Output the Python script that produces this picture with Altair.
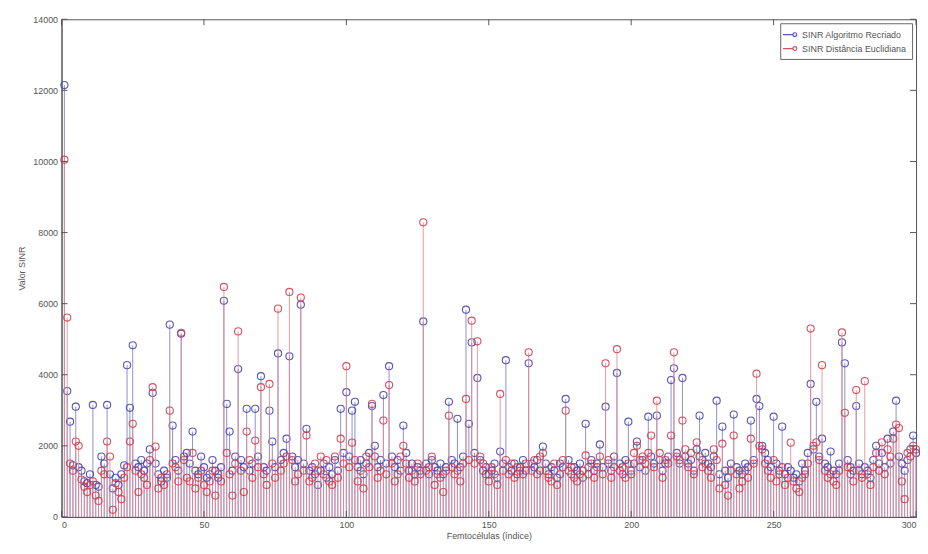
import altair as alt
import pandas as pd

series_names = ["SINR Algoritmo Recriado", "SINR Distância Euclidiana"]
series_colors = ["#4646b4", "#d2404e"]
stem_colors = ["#7c7cc4", "#e08a92"]

x_ticks = [0, 50, 100, 150, 200, 250, 300]
y_ticks = [0, 2000, 4000, 6000, 8000, 10000, 12000, 14000]

sinr_recriado = [
    12150, 3540, 2680, 1450, 3100, 1400, 1300, 1000, 950, 1200,
    3150, 900, 850, 1700, 1500, 3150, 1200, 800, 1100, 900,
    1200, 1450, 4270, 3070, 4830, 1500, 1400, 1600, 1300, 1500,
    1900, 3490, 1500, 1200, 1000, 1300, 1100, 5410, 2570, 1600,
    1300, 5150, 1700, 1800, 1500, 2400, 1300, 1200, 1700, 1400,
    1100, 1200, 1600, 1300, 1100, 1400, 6080, 3180, 2400, 1300,
    1700, 4160, 1600, 1400, 3040, 1300, 1500, 3040, 1700, 3960,
    1400, 1300, 2990, 2120, 1400, 4600, 1600, 1800, 2200, 4520,
    1700, 1400, 1600, 5970, 1500, 2480, 1300, 1400, 1200, 900,
    1300, 1500, 1100, 1400, 1200, 1600, 1300, 3040, 1800, 3510,
    1700, 2990, 3240, 1400, 1600, 1200, 1500, 1800, 3120, 2000,
    1400, 1600, 3430, 1500, 4240, 1700, 1400, 1600, 1300, 2570,
    1800, 1300, 1500, 1200, 1400, 1300, 5500, 1500, 1200, 1600,
    1400, 1300, 1500, 1200, 1400, 3240, 1600, 1500, 2760, 1400,
    1700, 5830, 2620, 4910, 1800, 3910, 1600, 1300, 1400, 1200,
    1300, 1500, 1100, 1840, 1500, 4410, 1400, 1300, 1500, 1200,
    1400, 1600, 1300, 4320, 1500, 1400, 1600, 1300, 1980, 1500,
    1200, 1400, 1300, 1100, 1500, 1400, 3320, 1600, 1200, 1400,
    1300, 1500, 1100, 2620, 1400, 1600, 1300, 1500, 2040, 1400,
    3100, 1500, 1300, 1700, 4050, 1500, 1200, 1600, 2680, 1300,
    1500, 2120, 1400, 1600, 1300, 2820, 1700, 1500, 2850, 1600,
    1300, 1500, 1700, 3850, 4180, 1800, 1500, 3910, 1700, 1500,
    1600, 1300, 1900, 2850, 1600, 1800, 1500, 1400, 1700, 3270,
    1200, 2540, 1300, 1100, 1500, 2880, 1400, 1300, 1200, 1500,
    1400, 2710, 1600, 3320, 3120, 2000, 1800, 1600, 1400, 2820,
    1500, 1300, 2540, 1200, 1400, 1300, 1100, 1200, 1000, 1500,
    1300, 1800, 3740, 1900, 3240, 1700, 2200, 1500, 1400, 1840,
    1300, 1200, 1500, 4910, 4320, 1600, 1400, 1300, 3120, 1500,
    1200, 1400, 1300, 1100, 1600, 2000, 1500, 1800, 1400, 2200,
    1500, 2400, 3270, 1700, 1500, 1300, 1600, 1900, 2290, 1800,
]

sinr_euclidiana = [
    10050, 5610, 1500, 1300, 2120, 2000, 1050, 850, 700, 900,
    1000, 600, 450, 1300, 1200, 2120, 1700, 200, 950, 700,
    500, 1100, 1400, 2120, 2620, 1300, 700, 1200, 1100, 900,
    1600, 3650, 1980, 800, 1100, 900, 1200, 2990, 1500, 1400,
    1000, 5180, 1600, 1100, 1000, 1800, 800, 1100, 1300, 900,
    700, 1000, 1300, 600, 1200, 1000, 6470, 1800, 1200, 600,
    1500, 5220, 1300, 700, 2400, 1600, 1100, 2150, 1400, 3650,
    1200, 900, 3740, 1500, 1100, 5860, 1300, 1500, 1700, 6330,
    1600, 1000, 1200, 6170, 1300, 2290, 1000, 1100, 1500, 1300,
    1700, 1200, 1600, 1000, 900, 1700, 1100, 2200, 1500, 4240,
    1400, 2090, 1600, 1000, 1300, 800, 1700, 1400, 3180, 1700,
    1100, 1300, 2710, 1200, 3710, 1500, 1000, 1200, 1700, 2000,
    1500, 1100, 1300, 1000, 1500, 1200, 8290, 1300, 1400, 1700,
    900, 1200, 1100, 700, 1300, 2850, 1400, 1200, 1300, 1000,
    1500, 3320, 1600, 5520, 1500, 4940, 1700, 1500, 1200, 1000,
    1400, 1200, 900, 3460, 1300, 1600, 1200, 1500, 1100, 1400,
    1300, 1200, 1500, 4630, 1300, 1600, 1200, 1700, 1800, 1300,
    1100, 1000, 1500, 900, 1200, 1600, 2990, 1300, 1400, 1100,
    1000, 1200, 1300, 1730, 1200, 1500, 1100, 1400, 1700, 1200,
    4320, 1600, 1100, 1400, 4720, 1300, 1400, 1100, 1500, 1200,
    1800, 2000, 1600, 1700, 1500, 1800, 2290, 1400, 3270, 1800,
    1100, 1600, 1500, 2290, 4630, 1700, 1600, 2710, 1900, 1400,
    1800, 1200, 2100, 1700, 1400, 1500, 1300, 1100, 1900, 1600,
    800, 2060, 900, 600, 1300, 2290, 1200, 800, 1000, 1300,
    1100, 2200, 1500, 4030, 2000, 1900, 1500, 1300, 1100, 1600,
    1000, 1200, 1400, 900, 1100, 2090, 1000, 800, 700, 1100,
    1200, 1500, 5300, 2000, 2100, 1600, 4270, 1300, 1100, 1200,
    1000, 900, 1300, 5190, 2930, 1400, 1200, 1000, 3570, 1300,
    1100, 3820, 1200, 900, 1400, 1800, 1300, 2100, 1200, 1900,
    1700, 2200, 2600, 2500, 1000, 500, 1800, 1700, 2000, 1900,
]

rows = []
for name, vals in zip(series_names, [sinr_recriado, sinr_euclidiana]):
    for i, v in enumerate(vals):
        rows.append({"idx": i + 1, "valor": v, "serie": name})
df = pd.DataFrame(rows)

xs = alt.Scale(domain=[0, 300], nice=False)
ys = alt.Scale(domain=[0, 14000], nice=False)

x_enc = alt.X("idx:Q", scale=xs,
              axis=alt.Axis(values=x_ticks, title="Femtocélulas (índice)", grid=False, ticks=False))
y_enc = alt.Y("valor:Q", scale=ys,
              axis=alt.Axis(values=y_ticks, title="Valor SINR", grid=False, ticks=False, format="d"))

color_enc = alt.Color("serie:N",
                      scale=alt.Scale(domain=series_names, range=series_colors),
                      legend=alt.Legend(title=None, orient="top-right", offset=4,
                                        symbolType="M -1.6 0 L 0.25 0 M 0.95 0 A 0.35 0.35 0 1 1 0.25 0 A 0.35 0.35 0 1 1 0.95 0",
                                        symbolSize=120, symbolStrokeWidth=1.2,
                                        labelFontSize=9, labelColor="#555",
                                        strokeColor="#666", fillColor="white",
                                        padding=5, rowPadding=2))

layers = []
for k, name in enumerate(series_names):
    base = alt.Chart(df).transform_filter(alt.datum.serie == name)
    stems = base.mark_rule(strokeWidth=1, color=stem_colors[k], opacity=0.85).encode(
        x=x_enc, y=alt.Y("valor:Q", scale=ys), y2=alt.datum(0))
    pts = base.mark_point(shape="circle", filled=False, size=52, strokeWidth=1.1, opacity=0.9).encode(
        x=x_enc, y=y_enc, color=color_enc)
    layers += [stems, pts]

# inward tick marks (MATLAB style)
xt = pd.DataFrame({"t": x_ticks})
yt = pd.DataFrame({"t": y_ticks})
tick_style = dict(color="#555", strokeWidth=1)
layers.append(alt.Chart(xt).mark_rule(**tick_style).encode(
    x=alt.X("t:Q", scale=xs), y=alt.value(502), y2=alt.value(496)))
layers.append(alt.Chart(xt).mark_rule(**tick_style).encode(
    x=alt.X("t:Q", scale=xs), y=alt.value(0), y2=alt.value(6)))
layers.append(alt.Chart(yt).mark_rule(**tick_style).encode(
    y=alt.Y("t:Q", scale=ys), x=alt.value(0), x2=alt.value(6)))
layers.append(alt.Chart(yt).mark_rule(**tick_style).encode(
    y=alt.Y("t:Q", scale=ys), x=alt.value(862), x2=alt.value(856)))

chart = alt.layer(*layers).properties(
    width=862, height=502,
    autosize=alt.AutoSizeParams(type="none"),
    padding={"left": 54, "top": 9, "right": 4, "bottom": 35},
).configure_view(stroke="#555", strokeWidth=1).configure_axis(
    domainColor="#555",
    labelFontSize=9, labelColor="#555", labelFont="Liberation Sans",
    titleFontSize=9, titleColor="#555", titleFont="Liberation Sans", titleFontWeight="normal",
).configure_axisX(titlePadding=2, labelPadding=4).configure_axisY(titlePadding=6, labelPadding=4)

chart.save("out.html", embed_options={"renderer": "svg", "actions": False})
